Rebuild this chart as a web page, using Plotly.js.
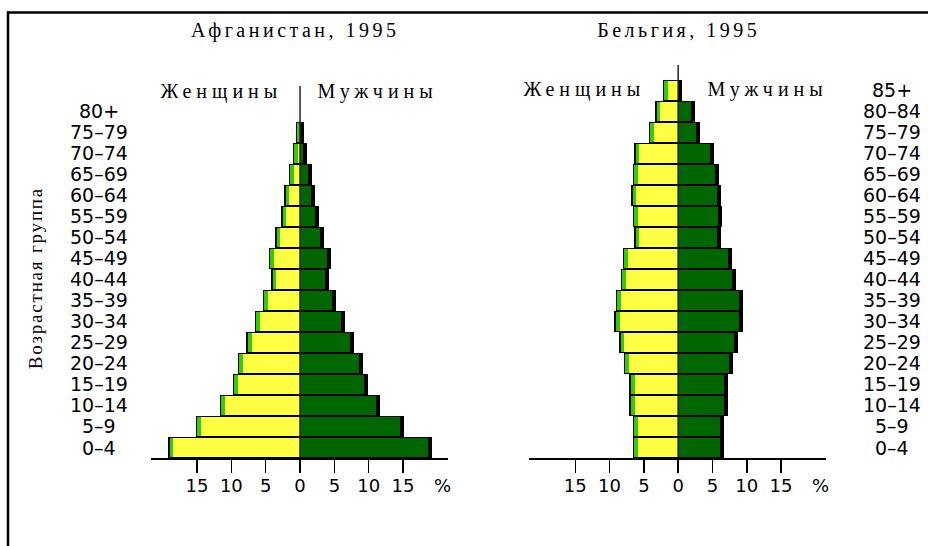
<!DOCTYPE html>
<html>
<head>
<meta charset="utf-8">
<script src="https://cdn.plot.ly/plotly-3.0.1.min.js"></script>
<style>
html, body { margin: 0; padding: 0; background: #fff; }
#chart { width: 928px; height: 546px; }
.annotation[data-index="0"] text, .annotation[data-index="1"] text { letter-spacing: 3.5px; }
.annotation[data-index="2"] text, .annotation[data-index="3"] text,
.annotation[data-index="4"] text, .annotation[data-index="5"] text { letter-spacing: 5px; }
.annotation[data-index="6"] text { letter-spacing: 1.8px; }
</style>
</head>
<body>
<div id="chart"></div>
<script>
// ---- data ----
const agesAfg = ['0–4','5–9','10–14','15–19','20–24','25–29','30–34','35–39','40–44','45–49','50–54','55–59','60–64','65–69','70–74','75–79','80+'];
const afgFemale = [19.2, 15.2, 11.7, 9.8, 9.1, 7.8, 6.6, 5.4, 4.2, 4.5, 3.6, 2.75, 2.3, 1.6, 1.05, 0.6, 0];
const afgMale   = [19.2, 15.2, 11.7, 9.9, 9.1, 7.8, 6.6, 5.3, 4.25, 4.45, 3.5, 2.7, 2.2, 1.7, 1.05, 0.6, 0];

const agesBel = ['0–4','5–9','10–14','15–19','20–24','25–29','30–34','35–39','40–44','45–49','50–54','55–59','60–64','65–69','70–74','75–79','80–84','85+'];
const belFemale = [6.6, 6.6, 7.1, 7.1, 7.9, 8.6, 9.3, 9.1, 8.35, 8.1, 6.4, 6.6, 6.85, 6.6, 6.4, 4.3, 3.35, 2.2];
const belMale   = [6.7, 6.7, 7.2, 7.2, 8.0, 8.7, 9.4, 9.4, 8.45, 7.9, 6.2, 6.4, 6.2, 5.95, 5.2, 3.25, 2.5, 0.55];

const tickVals = [-15, -10, -5, 0, 5, 10, 15];
const tickText = ['15', '10', '5', '0', '5', '10', '15'];

const titles = ['Афганистан, 1995', 'Бельгия, 1995'];
const femaleLabel = 'Женщины';
const maleLabel = 'Мужчины';
const yLabel = 'Возрастная группа';

// ---- styles ----
const YELLOW = '#ffff44';
const LGREEN = '#33cc00';
const DGREEN = '#006600';
const SANS = '"DejaVu Sans", Verdana, sans-serif';
const SERIF = '"Liberation Serif", "Times New Roman", serif';

function pyramid(ages, fem, mal, xa, ya) {
  const base = {type: 'bar', orientation: 'h', y: ages, xaxis: xa, yaxis: ya,
                hoverinfo: 'skip', showlegend: false};
  const ln = {width: 0};
  return [
    Object.assign({}, base, {x: fem.map(v => -v), width: 1, marker: {color: '#000', line: ln}}),
    Object.assign({}, base, {x: fem.map(v => -Math.max(0, v - 0.2)), width: 0.9, marker: {color: LGREEN, line: ln}}),
    Object.assign({}, base, {x: fem.map(v => -Math.max(0, v - 0.75)), width: 0.9, marker: {color: YELLOW, line: ln}}),
    Object.assign({}, base, {x: mal.map(v => v), width: 1, marker: {color: '#000', line: ln}}),
    Object.assign({}, base, {x: mal.map(v => Math.max(0, v - 0.58)), width: 0.9, marker: {color: DGREEN, line: ln}})
  ];
}

const data = pyramid(agesAfg, afgFemale, afgMale, 'x', 'y')
  .concat(pyramid(agesBel, belFemale, belMale, 'x2', 'y2'));

const W = 928, H = 546;
const px = v => v / W;
const py = v => (H - v) / H;

function xaxisDef(domain, anchor) {
  return {
    domain: domain, anchor: anchor, range: [-21.7, 21.55],
    tickvals: tickVals, ticktext: tickText,
    ticks: 'outside', ticklen: 13, tickwidth: 1.5, tickcolor: '#000',
    ticklabelstandoff: -2,
    tickfont: {family: SANS, size: 18, color: '#000'},
    showline: true, linecolor: '#000', linewidth: 1.5,
    showgrid: false, zeroline: false, fixedrange: true
  };
}
function yaxisDef(domain, anchor, rng) {
  return {
    domain: domain, anchor: anchor, type: 'category', range: rng,
    showticklabels: false, ticks: '', showline: false, showgrid: false,
    zeroline: false, fixedrange: true
  };
}

const annotations = [];
function ann(o) {
  annotations.push(Object.assign({showarrow: false, xanchor: 'center', yanchor: 'middle'}, o));
}
// serif texts (indices 0..6)
ann({text: titles[0], xref: 'paper', yref: 'paper', x: px(295), y: py(30), font: {family: SERIF, size: 20, color: '#000'}});
ann({text: titles[1], xref: 'paper', yref: 'paper', x: px(679), y: py(30), font: {family: SERIF, size: 20, color: '#000'}});
ann({text: femaleLabel, xref: 'paper', yref: 'paper', x: px(221.5), y: py(92), font: {family: SERIF, size: 20, color: '#000'}});
ann({text: maleLabel, xref: 'paper', yref: 'paper', x: px(377), y: py(92), font: {family: SERIF, size: 20, color: '#000'}});
ann({text: femaleLabel, xref: 'paper', yref: 'paper', x: px(584), y: py(90), font: {family: SERIF, size: 20, color: '#000'}});
ann({text: maleLabel, xref: 'paper', yref: 'paper', x: px(767.5), y: py(90), font: {family: SERIF, size: 20, color: '#000'}});
ann({text: yLabel, xref: 'paper', yref: 'paper', x: px(35), y: py(278), textangle: -90, font: {family: SERIF, size: 19, color: '#000'}});
// percent signs
ann({text: '%', xref: 'x', yref: 'paper', x: 20.7, y: py(485), font: {family: SANS, size: 18, color: '#000'}});
ann({text: '%', xref: 'x2', yref: 'paper', x: 20.8, y: py(485), font: {family: SANS, size: 18, color: '#000'}});
// age labels
agesAfg.forEach(a => ann({text: a, xref: 'paper', yref: 'y', x: px(99), y: a, font: {family: SANS, size: 19, color: '#000'}}));
agesBel.forEach(a => ann({text: a, xref: 'paper', yref: 'y2', x: px(892), y: a, font: {family: SANS, size: 19, color: '#000'}}));

const shapes = [
  // frame (top and left edges)
  {type: 'line', xref: 'paper', yref: 'paper', x0: px(7), x1: 1, y0: py(12.5), y1: py(12.5), line: {color: '#000', width: 2.5}},
  {type: 'line', xref: 'paper', yref: 'paper', x0: px(8), x1: px(8), y0: py(11.5), y1: 0, line: {color: '#000', width: 2.5}},
  // centre lines
  {type: 'line', xref: 'x', yref: 'y domain', x0: 0, x1: 0, y0: 0, y1: 1, layer: 'above', line: {color: '#222', width: 1.5}},
  {type: 'line', xref: 'x2', yref: 'y2 domain', x0: 0, x1: 0, y0: 0, y1: 1, layer: 'above', line: {color: '#222', width: 1.5}}
];

const layout = {
  width: W, height: H,
  margin: {l: 0, r: 0, t: 0, b: 0, pad: 0},
  paper_bgcolor: '#fff', plot_bgcolor: 'rgba(0,0,0,0)',
  barmode: 'overlay', bargap: 0,
  xaxis: xaxisDef([px(151), px(448)], 'y'),
  yaxis: yaxisDef([py(458), py(86)], 'x', [-0.5, 17.21]),
  xaxis2: xaxisDef([px(529.3), px(826)], 'y2'),
  yaxis2: yaxisDef([py(458), py(65)], 'x2', [-0.5, 18.21]),
  annotations: annotations,
  shapes: shapes
};

Plotly.newPlot('chart', data, layout, {displayModeBar: false, staticPlot: true});
</script>
</body>
</html>
